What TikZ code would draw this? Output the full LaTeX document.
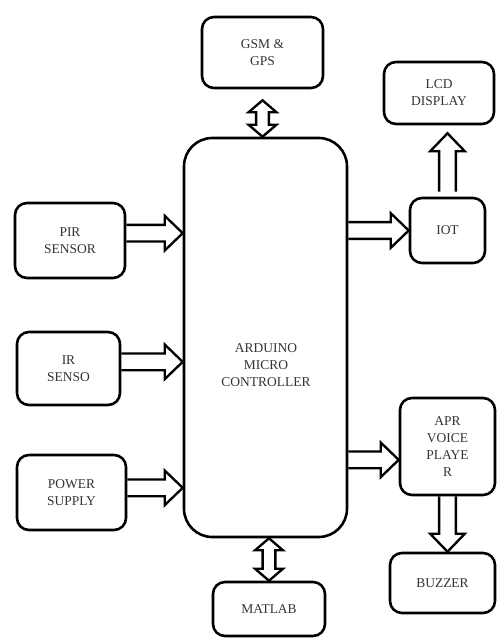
\documentclass[tikz,border=0pt]{standalone}
\usepackage{fontspec}
\setmainfont{Liberation Serif}
\usetikzlibrary{calc, positioning}

\tikzset{
  blk/.style={draw, line width=2.2pt, rounded corners=0.36cm, align=center,
    inner sep=0pt, text=black!80, font=\fontsize{11.5}{14.5}\selectfont},
  txt/.style={align=center, text=black!80, font=\fontsize{11.5}{14.5}\selectfont},
  arrowline/.style={draw, line width=2pt, line join=miter},
}

% hollow block arrow, one head
\newcommand{\fatarrow}[2]{%
  \coordinate (fa-s) at (#1);
  \coordinate (fa-t) at (#2);
  \coordinate (fa-h) at ($(fa-t)!0.54cm!(fa-s)$);
  \draw[arrowline] ($(fa-s)!0.25cm!90:(fa-t)$) -- ($(fa-h)!0.25cm!90:(fa-t)$)
    -- ($(fa-h)!0.52cm!90:(fa-t)$) -- (fa-t) -- ($(fa-h)!0.52cm!-90:(fa-t)$)
    -- ($(fa-h)!0.25cm!-90:(fa-t)$) -- ($(fa-s)!0.25cm!-90:(fa-t)$);
}
% hollow block arrow, two heads
\newcommand{\twinarrow}[2]{%
  \coordinate (ta-s) at (#1);
  \coordinate (ta-t) at (#2);
  \coordinate (ta-a) at ($(ta-s)!0.36cm!(ta-t)$);
  \coordinate (ta-b) at ($(ta-t)!0.36cm!(ta-s)$);
  \draw[arrowline] (ta-s) -- ($(ta-a)!0.42cm!90:(ta-t)$) -- ($(ta-a)!0.19cm!90:(ta-t)$)
    -- ($(ta-b)!0.19cm!90:(ta-t)$) -- ($(ta-b)!0.42cm!90:(ta-t)$) -- (ta-t)
    -- ($(ta-b)!0.42cm!-90:(ta-t)$) -- ($(ta-b)!0.19cm!-90:(ta-t)$)
    -- ($(ta-a)!0.19cm!-90:(ta-t)$) -- ($(ta-a)!0.42cm!-90:(ta-t)$) -- cycle;
}

\begin{document}
\begin{tikzpicture}[x=0.03cm, y=-0.03cm]
  \useasboundingbox (0,0) rectangle (496,641);

  \node[blk, minimum width=3.63cm, minimum height=2.13cm] (gsm) at (262.5,52.5) {GSM \&\\GPS};
  \node[blk, minimum width=4.89cm, minimum height=11.97cm, rounded corners=0.85cm] (ard) at (265.5,337.5) {};
  \node[txt] (ardtxt) at (266,365) {ARDUINO\\MICRO\\CONTROLLER};
  \node[blk, minimum width=3.3cm, minimum height=1.86cm] (lcd) at (439,93) {LCD\\DISPLAY};
  \node[blk, minimum width=2.25cm, minimum height=1.95cm] (iot) at (447.5,230.5) {IOT};
  \node[blk, minimum width=3.3cm, minimum height=2.25cm] (pir) at (70,240.5) {PIR\hspace{2.1em}\\SENSOR};
  \node[blk, minimum width=3.09cm, minimum height=2.19cm] (ir) at (68.5,368.5) {IR\\SENSO};
  \node[blk, minimum width=3.27cm, minimum height=2.25cm] (pwr) at (71.5,492.5) {POWER\\SUPPLY};
  \node[blk, minimum width=2.85cm, minimum height=2.91cm] (apr) at (447.5,446.5) {APR\\VOICE\\PLAYE\\R};
  \node[blk, minimum width=3.15cm, minimum height=1.8cm] (buz) at (442.5,583) {BUZZER};
  \node[blk, minimum width=3.36cm, minimum height=1.62cm] (mat) at (269,609) {MATLAB};

  % inputs
  \fatarrow{[yshift=0.22cm]pir.east}{[yshift=0.22cm]pir.east -| ard.west}
  \fatarrow{[yshift=0.2cm]ir.east}{[yshift=0.2cm]ir.east -| ard.west}
  \fatarrow{[yshift=0.14cm]pwr.east}{[yshift=0.14cm]pwr.east -| ard.west}

  % outputs
  \fatarrow{ard.east |- iot.west}{iot.west}
  \fatarrow{[yshift=0.15cm]iot.north}{[yshift=-0.24cm]iot.north |- lcd.south}
  \fatarrow{[yshift=-0.4cm]ard.east |- apr.west}{[yshift=-0.4cm]apr.west}
  \fatarrow{apr.south}{apr.south |- buz.north}

  % both ways
  \twinarrow{[yshift=-0.33cm]gsm.south}{gsm.south |- ard.north}
  \twinarrow{mat.north |- ard.south}{mat.north}
\end{tikzpicture}
\end{document}
